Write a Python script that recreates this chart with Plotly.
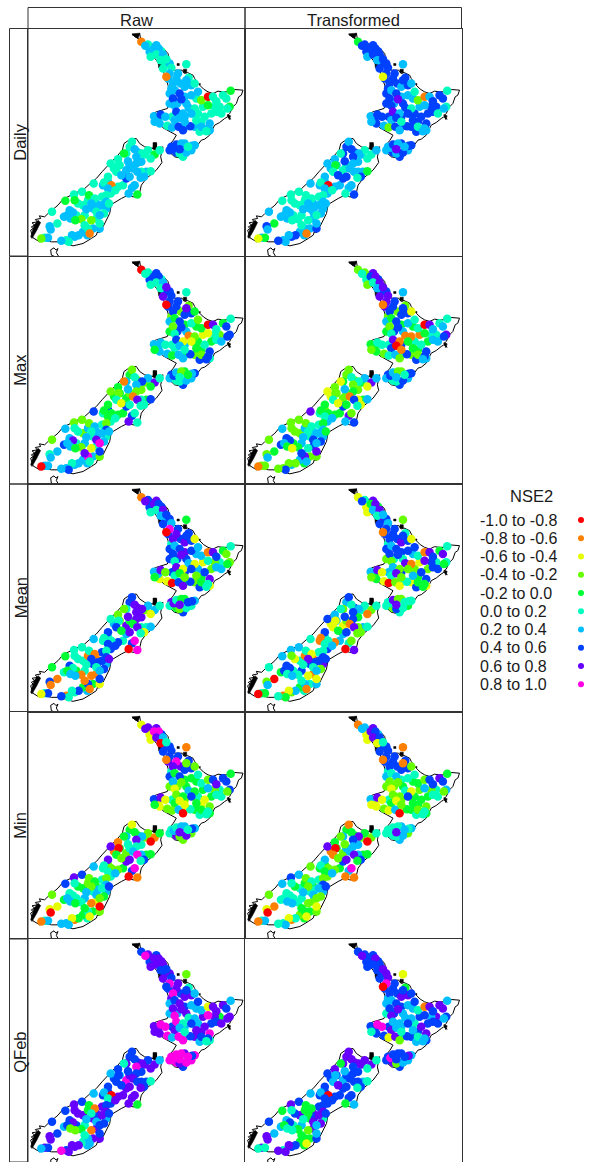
import plotly.graph_objects as go

# Station positions in map units (three units = one pixel), y running southwards
# Stations partly hidden under others in the picture come first, so they are drawn underneath
under_east = [360,365,385,400,412,425,405,
              420,450,458,470,430,425,425,448,470,475,505,
              495,510,525,575,560,550,520,500,432,470,440,470,545,515,
              395,390,
              430,425,445,470,490,465,500,
              305,330,350,295,275,258,295,305,340,355,340,
              285,270,240,225,248,222,205,
              165,150,180,195,235,210,125,108,145,170,178,195,165,205,50,115,140,215]
under_south = [48,70,50,68,105,105,120,
               150,135,165,175,180,195,225,225,205,225,210,
               255,255,235,235,235,255,280,295,265,265,275,295,305,310,
               285,270,
               355,365,372,345,365,385,350,
               355,372,378,375,410,420,425,410,400,430,430,
               470,475,460,470,495,505,525,
               530,525,515,540,540,535,545,565,560,560,620,600,610,570,628,635,625,600]
east = [340,352,368,378,392,385,405,398,415,
        475,430,425,445,415,435,482,490,475,500,
        440,455,460,435,490,510,520,482,500,440,445,465,
        540,555,565,585,608,595,605,540,565,580,598,
        378,380,398,412,418,432,455,452,465,487,490,470,505,520,530,545,540,535,
        437,445,460,455,475,492,480,455,
        312,320,360,342,380,395,368,325,300,288,270,248,272,325,315,328,368,348,338,265,240,228,295,280,305,250,197,312,302,328,320,240,262,235,
        162,138,140,112,183,200,190,235,222,243,175,205,228,215,135,118,127,72,160,142,190,215,88,65,68,180,170,185,152,132,122,100,60,40]
south = [40,52,85,60,60,78,78,95,92,
         107,118,135,150,145,165,148,170,155,165,
         185,195,212,210,200,190,215,238,240,232,250,255,
         205,205,218,200,187,210,235,230,250,255,240,
         263,280,258,265,292,297,268,295,305,293,255,280,275,295,265,285,300,308,
         358,348,345,375,372,352,355,362,
         340,362,365,375,378,365,390,385,398,375,392,405,410,405,420,430,428,445,448,430,445,462,450,440,445,470,465,478,495,498,470,480,485,500,
         490,498,515,517,500,510,525,520,530,525,542,550,555,560,552,560,570,550,572,575,575,585,585,593,603,600,590,615,620,620,640,637,628,630]

# NSE2 class of each station (index into class_labels), one series per panel
under_daily_raw = "5665565"+"66666666665"+"6555555"+"6566665"+"66"+"7776656"+"5655556"+"6665"+"5566556"+"55566"+"66655"+"66655"+"566"
under_daily_transformed = "7777777"+"77767776676"+"7767777"+"7776767"+"77"+"6677677"+"7767665"+"5666"+"6666656"+"55566"+"66655"+"66666"+"677"
under_max_raw = "5775778"+"77373647464"+"3423544"+"3565457"+"66"+"7654677"+"4336444"+"3345"+"4475556"+"35655"+"66756"+"66656"+"663"
under_max_transformed = "3587778"+"87373647464"+"1515544"+"3577567"+"44"+"7653677"+"3344323"+"3342"+"4435656"+"33656"+"67746"+"43673"+"363"
under_mean_raw = "7787677"+"77785777876"+"2625334"+"3775427"+"26"+"8544576"+"7835368"+"4855"+"5755771"+"55176"+"77545"+"64415"+"152"
under_mean_transformed = "5284877"+"77785735756"+"1325734"+"2675527"+"44"+"5533455"+"6753622"+"3463"+"6151751"+"52178"+"77457"+"55415"+"136"
under_min_raw = "8287777"+"87875733444"+"2545342"+"4534245"+"22"+"5586336"+"4436413"+"5546"+"4335554"+"44356"+"65456"+"54425"+"613"
under_min_transformed = "6286777"+"77775633544"+"1435344"+"4534245"+"22"+"5556366"+"4436413"+"6646"+"4344354"+"54456"+"55555"+"44335"+"513"
under_qfeb_raw = "8778788"+"78788666786"+"6684878"+"8768556"+"88"+"9998979"+"7788679"+"8777"+"8877788"+"88486"+"77675"+"68588"+"788"
under_qfeb_transformed = "7777787"+"77786657766"+"6578677"+"7768576"+"77"+"7787676"+"8888776"+"7767"+"7777778"+"87445"+"76656"+"44488"+"577"

daily_raw = "165665655"+"5566165665"+"677766365676"+"05554544555"+"667656677766565665"+"77656657"+"5655455664"+"5556665665"+"5576615664"+"6655"+"5544456665"+"6556666534"+"3556655166"+"5663"
daily_transformed = "476777767"+"6777277776"+"678765375786"+"16775756756"+"667763776775757766"+"67667768"+"6756565775"+"6646664755"+"6577706657"+"6655"+"5555556666"+"6665666655"+"5647665176"+"6742"
max_raw = "055775658"+"5777073784"+"477353413572"+"08545772567"+"646564666725435777"+"76356645"+"3567854661"+"4333187555"+"4472547785"+"5453"+"3356365766"+"6869866334"+"2765698565"+"7660"
max_transformed = "353785868"+"6887173772"+"477365511581"+"08655684667"+"435535063741435776"+"76357756"+"3565862362"+"3234176255"+"4472448867"+"3564"+"3336355664"+"6776764342"+"5843687633"+"7331"
mean_raw = "185875867"+"4698087772"+"678776662582"+"18745335664"+"648320478773347855"+"85435778"+"7868652883"+"3558486257"+"7564856709"+"9775"+"5554517778"+"5576546416"+"1717171175"+"5772"
mean_transformed = "272486856"+"3677175772"+"677777581363"+"18745858774"+"638220832533647744"+"58375558"+"7556351775"+"6727185332"+"7164755508"+"3565"+"6636528777"+"5536775556"+"2203665162"+"4540"
min_raw = "282998605"+"1779187733"+"473645564234"+"37874776553"+"748233260572442355"+"65638758"+"2436140854"+"1805694754"+"8583836701"+"9563"+"7857343657"+"6643566354"+"1022054242"+"6661"
min_transformed = "162878725"+"1777177713"+"563355452233"+"37784766553"+"628232260473434355"+"55556568"+"1448350733"+"4806684741"+"6573833611"+"9463"+"6756353767"+"6633556356"+"3212044252"+"6561"
qfeb_raw = "798888877"+"3798795876"+"788867656995"+"28886789788"+"889996699775878975"+"99989799"+"7778868975"+"7677875787"+"7687806884"+"8587"+"7887415887"+"6677873743"+"1778865688"+"8976"
qfeb_transformed = "787787778"+"2897074877"+"678767566866"+"18786877776"+"759972683775658866"+"97736877"+"8888855764"+"8767775756"+"7678706746"+"7777"+"7854444887"+"5886745745"+"3668844278"+"8855"

row_labels = ["Daily", "Max", "Mean", "Min", "QFeb"]
col_labels = ["Raw", "Transformed"]
class_labels = ["-1.0 to -0.8","-0.8 to -0.6","-0.6 to -0.4","-0.4 to -0.2","-0.2 to 0.0",
                "0.0 to 0.2","0.2 to 0.4","0.4 to 0.6","0.6 to 0.8","0.8 to 1.0"]
class_colors = ["#ff0000","#ff8000","#e6ff00","#66ff00","#00ff33",
                "#00ffbf","#00bfff","#0040ff","#6600ff","#ff00e6"]

panel_series = [[under_daily_raw+daily_raw, under_daily_transformed+daily_transformed],
                [under_max_raw+max_raw, under_max_transformed+max_transformed],
                [under_mean_raw+mean_raw, under_mean_transformed+mean_transformed],
                [under_min_raw+min_raw, under_min_transformed+min_transformed],
                [under_qfeb_raw+qfeb_raw, under_qfeb_transformed+qfeb_transformed]]
all_east = under_east + east
all_south = under_south + south
assert len(all_east) == len(all_south)
for row in panel_series:
    for s in row:
        assert len(s) == len(all_east), (len(s), len(all_east))

# Coastline (map units)
north_island_x = [312,322,335,338,345,352,368,380,395,408,420,425,423,430,440,462,470,478,495,500,515,527,540,555,570,585,600,620,632,645,640,632,625,615,605,598,608,598,590,575,560,552,545,530,520,505,490,475,462,455,440,430,418,428,436,445,430,420,405,395,375,368,375,385,405,418,425,425,420,415,405,395,385,372,360,345,338,330,322,312]
north_island_y = [18,22,15,32,38,42,45,50,52,62,75,100,112,118,125,125,135,132,140,150,170,182,190,195,188,190,190,183,183,185,200,205,225,235,255,262,272,265,270,282,290,305,320,332,335,355,370,385,385,388,385,375,365,345,335,320,312,305,298,285,275,262,255,250,245,240,220,190,170,155,125,110,95,80,65,52,32,30,24,18]
south_island_x = [283,288,298,310,325,335,350,365,375,378,385,385,395,405,398,402,385,370,355,340,335,332,315,300,280,262,250,245,235,225,210,205,190,165,135,115,95,70,50,35,15,8,15,10,20,12,28,22,38,34,50,60,72,90,105,130,150,170,190,205,222,235,250,265,283]
south_island_y = [365,345,338,332,330,345,355,358,360,345,345,362,358,355,385,402,425,438,450,470,490,505,505,500,510,520,528,555,575,595,605,620,630,645,652,645,640,640,635,640,628,605,600,595,590,583,580,573,570,562,565,555,545,530,512,500,490,480,462,450,430,415,400,385,365]
stewart_x = [68,78,84,90,85,92,80,70,68]
stewart_y = [664,658,665,660,672,684,684,680,664]
island_x = [[447,454,454,447,447],[466,476,476,466,466],[514,517,517,514,514]]
island_y = [[105,105,111,111,105],[122,122,133,133,122],[165,165,169,169,165]]
# Heavily indented stretches that read as solid black
blob_x = [[312,336,330,322,312],[375,386,386,375,375],[390,408,405,392,390],[598,608,604,598],[8,18,30,38,26,12,8],[210,220,216,208,210]]
blob_y = [[16,14,30,26,16],[342,342,366,362,342],[100,108,125,118,100],[258,262,274,258],[625,590,575,582,606,630,625],[600,602,612,612,600]]

row_tops = [28.5, 256.5, 484.0, 711.5, 938.5]
row_height = 227.5
col_edges = [(28.0, 245.0), (245.0, 461.5)]
W, H = 590, 1162
FRAME = "#333333"
FONT = "Liberation Sans, Arial, sans-serif"
TEXT = "#1a1a1a"

def px(v): return v / W
def py(v): return 1 - v / H

fig = go.Figure()
layout = {}
annotations = []
shapes = []
axis_n = 0

def frame_axis(domain, rng):
    return dict(domain=domain, range=rng, showgrid=False, zeroline=False, showticklabels=False,
                ticks="", showline=True, mirror=True, linecolor=FRAME, linewidth=1, fixedrange=True)

for r, top in enumerate(row_tops):
    bottom = min(top + row_height, H)
    for c, (x0, x1) in enumerate(col_edges):
        axis_n += 1
        sfx = "" if axis_n == 1 else str(axis_n)
        layout["xaxis" + sfx] = frame_axis([px(x0), px(x1)], [0, 651])
        ya = frame_axis([py(bottom), py(top)], [(bottom - top) * 3, 0])
        ya["anchor"] = "x" + sfx
        layout["xaxis" + sfx]["anchor"] = "y" + sfx
        layout["yaxis" + sfx] = ya
        kw = dict(xaxis="x" + sfx, yaxis="y" + sfx, showlegend=False, hoverinfo="skip")
        for bx, by in zip(blob_x + island_x, blob_y + island_y):
            fig.add_trace(go.Scatter(x=bx, y=by, mode="lines", fill="toself", fillcolor="black",
                                     line=dict(color="black", width=0.5), **kw))
        for cx, cy in [(north_island_x, north_island_y), (south_island_x, south_island_y), (stewart_x, stewart_y)]:
            fig.add_trace(go.Scatter(x=cx, y=cy, mode="lines", line=dict(color="black", width=1), **kw))
        vals = [int(ch) for ch in panel_series[r][c]]
        fig.add_trace(go.Scatter(x=all_east, y=all_south, mode="markers",
                                 marker=dict(size=8.5, color=[class_colors[v] for v in vals], line=dict(width=0)),
                                 **kw))

# Legend panel, its own axes in pixel-like units
axis_n += 1
sfx = str(axis_n)
layout["xaxis" + sfx] = dict(domain=[px(465), px(590)], range=[465, 590], visible=False, fixedrange=True, anchor="y" + sfx)
layout["yaxis" + sfx] = dict(domain=[py(700), py(480)], range=[700, 480], visible=False, fixedrange=True, anchor="x" + sfx)
legend_y = [520 + i * 18.25 for i in range(len(class_labels))]
fig.add_trace(go.Scatter(x=[581] * len(class_labels), y=legend_y, mode="markers",
                         marker=dict(size=6, color=class_colors, line=dict(width=0)),
                         xaxis="x" + sfx, yaxis="y" + sfx, showlegend=False, hoverinfo="skip"))
for lab, ly in zip(class_labels, legend_y):
    annotations.append(dict(xref="x" + sfx, yref="y" + sfx, x=478, y=ly, text=lab, showarrow=False,
                            xanchor="left", yanchor="middle", font=dict(size=16, family=FONT, color=TEXT)))
annotations.append(dict(xref="x" + sfx, yref="y" + sfx, x=531, y=496, text="NSE2", showarrow=False,
                        xanchor="center", yanchor="middle", font=dict(size=16.5, family=FONT, color=TEXT)))

# Strips
for (x0, x1), lab in zip(col_edges, col_labels):
    shapes.append(dict(type="rect", xref="paper", yref="paper", x0=px(x0), x1=px(x1), y0=py(28.5), y1=py(7.5),
                       line=dict(color=FRAME, width=1)))
    annotations.append(dict(xref="paper", yref="paper", x=px((x0 + x1) / 2), y=py(20.5), text=lab, showarrow=False,
                            xanchor="center", yanchor="middle", font=dict(size=16.5, family=FONT, color=TEXT)))
for top, lab in zip(row_tops, row_labels):
    bottom = min(top + row_height, H)
    shapes.append(dict(type="rect", xref="paper", yref="paper", x0=px(9.5), x1=px(28), y0=py(bottom), y1=py(top),
                       line=dict(color=FRAME, width=1)))
    annotations.append(dict(xref="paper", yref="paper", x=px(20.5), y=py(top + row_height / 2), text=lab, showarrow=False,
                            textangle=-90, xanchor="center", yanchor="middle",
                            font=dict(size=16.5, family=FONT, color=TEXT)))

fig.update_layout(width=W, height=H, margin=dict(l=0, r=0, t=0, b=0), paper_bgcolor="white",
                  plot_bgcolor="white", showlegend=False, annotations=annotations, shapes=shapes, **layout)
fig.write_html("out.html", config={"displayModeBar": False},
               post_script="document.body.style.margin='0';document.documentElement.style.overflow='hidden';")
